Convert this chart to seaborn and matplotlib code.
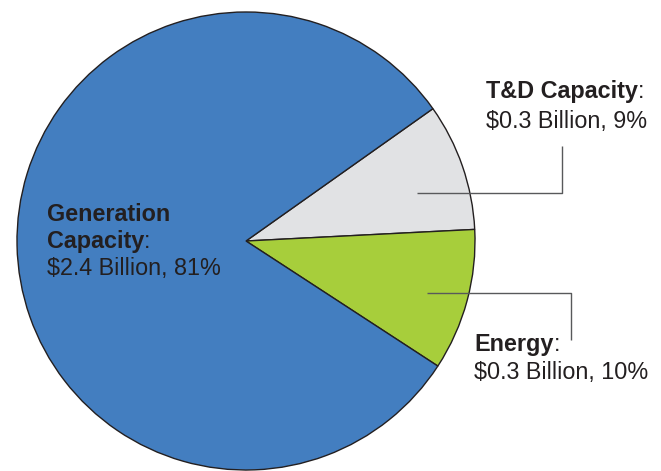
import matplotlib
matplotlib.use("Agg")
import matplotlib.pyplot as plt
import seaborn as sns

sns.set_theme(style="white")
plt.rcParams['font.family'] = ['Liberation Sans', 'DejaVu Sans']

# Data
categories = ["T&D Capacity", "Energy", "Generation Capacity"]
label_lines = [["T&D Capacity"], ["Energy"], ["Generation", "Capacity"]]
amounts = ["$0.3 Billion, 9%", "$0.3 Billion, 10%", "$2.4 Billion, 81%"]
shares = [9, 10, 81]
colors = ["#E1E2E4", "#A7CE3B", "#437EC0"]

W, H = 661, 471
fig = plt.figure(figsize=(W / 100, H / 100), dpi=100)
ax = fig.add_axes([0, 0, 1, 1])

def Y(py):
    return H - py

ax.pie(shares, colors=colors, startangle=35.3, counterclock=False,
       center=(246, Y(241)), radius=229,
       wedgeprops=dict(edgecolor="#231F20", linewidth=1.0))
ax.set_xlim(0, W)
ax.set_ylim(0, H)
ax.set_aspect("equal")
ax.axis("off")

txt_color = "#231F20"
fs = 16.8

def label(x, baselines, title_lines, amount):
    n = len(title_lines)
    for i, line in enumerate(title_lines):
        t = ax.text(x, Y(baselines[i]), line, fontsize=fs, fontweight="bold",
                    color=txt_color, va="baseline", ha="left")
        if i == n - 1:
            ax.annotate(":", xy=(1, 0), xycoords=t, va="bottom", ha="left",
                        fontsize=fs, color=txt_color)
    ax.text(x, Y(baselines[n]), amount, fontsize=fs, color=txt_color,
            va="baseline", ha="left")

label(486, [98, 128], label_lines[0], amounts[0])
label(474, [351, 379], label_lines[1], amounts[1])
label(47, [221, 248, 275], label_lines[2], amounts[2])

line_kw = dict(color="#58595B", linewidth=1.0, solid_capstyle="butt")
ax.plot([417, 561.5, 561.5], [Y(193), Y(193), Y(146)], **line_kw)
ax.plot([427, 570.5, 570.5], [Y(293), Y(293), Y(340)], **line_kw)

fig.savefig("out.png", dpi=100)
